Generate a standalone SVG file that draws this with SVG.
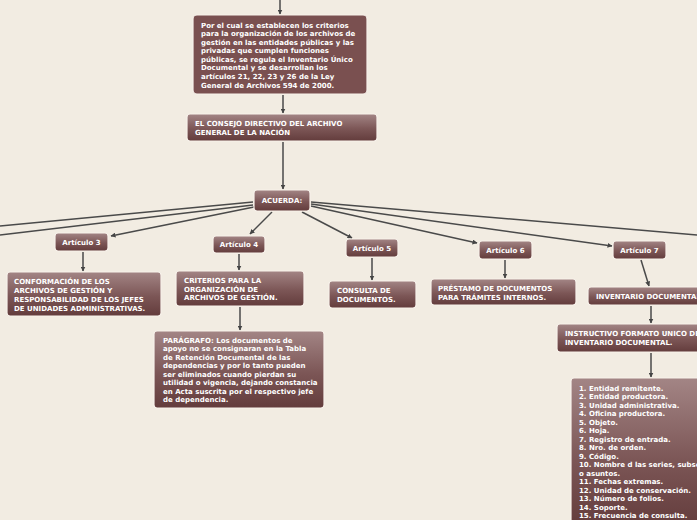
<svg xmlns="http://www.w3.org/2000/svg" width="697" height="520" viewBox="0 0 697 520">
<defs>
<linearGradient id="g" x1="0" y1="0" x2="0" y2="1">
<stop offset="0" stop-color="#a38585"/>
<stop offset="0.55" stop-color="#7c5656"/>
<stop offset="1" stop-color="#633c3c"/>
</linearGradient>
<marker id="ah" viewBox="0 0 10 10" refX="9" refY="5" markerWidth="5" markerHeight="5" orient="auto" markerUnits="userSpaceOnUse">
<path d="M0,0 L10,5 L0,10 z" fill="#454545"/>
</marker>
</defs>
<style>
.bx{fill:url(#g);stroke:#f7f1ea;stroke-width:1.2}
.solid{fill:#7a5050;stroke:#f7f1ea;stroke-width:1.2}
.t{font-family:"DejaVu Sans",Verdana,sans-serif;font-weight:bold;font-size:7px;fill:#ffffff}
.c{text-anchor:middle}
.ln{stroke:#4a4a4a;stroke-width:1.5;fill:none}
.ar{marker-end:url(#ah)}
</style>
<rect width="697" height="520" fill="#f2ece2"/>
<g id="connectors">
<line class="ln ar" x1="280" y1="0" x2="280" y2="14"/>
<line class="ln ar" x1="283" y1="95" x2="283" y2="113"/>
<line class="ln ar" x1="283" y1="142" x2="283" y2="189"/>
<line class="ln" x1="253" y1="202" x2="0" y2="226"/>
<line class="ln" x1="253" y1="205" x2="0" y2="235"/>
<line class="ln ar" x1="254" y1="207" x2="111" y2="236"/>
<line class="ln ar" x1="272" y1="212" x2="250" y2="234"/>
<line class="ln ar" x1="302" y1="212" x2="352" y2="238"/>
<line class="ln ar" x1="311" y1="206" x2="477" y2="243"/>
<line class="ln ar" x1="311" y1="204" x2="612" y2="246"/>
<line class="ln" x1="311" y1="202" x2="697" y2="235"/>
<line class="ln ar" x1="83" y1="252" x2="83" y2="271"/>
<line class="ln ar" x1="239" y1="254" x2="239" y2="270"/>
<line class="ln ar" x1="240" y1="307" x2="240" y2="330"/>
<line class="ln ar" x1="372" y1="258" x2="372" y2="280"/>
<line class="ln ar" x1="505" y1="260" x2="505" y2="278"/>
<line class="ln ar" x1="641" y1="260" x2="649" y2="286"/>
<line class="ln ar" x1="651" y1="306" x2="651" y2="323"/>
<line class="ln ar" x1="651" y1="353" x2="651" y2="377"/>
</g>
<g id="n-intro">
<rect class="solid" x="193" y="15" width="174" height="79" rx="4"/>
<text class="t" x="201" y="27.5">Por el cual se establecen los criterios</text>
<text class="t" x="201" y="36">para la organización de los archivos de</text>
<text class="t" x="201" y="44.6">gestión en las entidades públicas y las</text>
<text class="t" x="201" y="53.2">privadas que cumplen funciones</text>
<text class="t" x="201" y="61.8">públicas, se regula el Inventario Único</text>
<text class="t" x="201" y="70.4">Documental y se desarrollan los</text>
<text class="t" x="201" y="79">artículos 21, 22, 23 y 26 de la Ley</text>
<text class="t" x="201" y="87.6">General de Archivos 594 de 2000.</text>
</g>
<g id="n-consejo">
<rect class="bx" x="187" y="114" width="190" height="27" rx="3"/>
<text class="t" x="195" y="126">EL CONSEJO DIRECTIVO DEL ARCHIVO</text>
<text class="t" x="195" y="135">GENERAL DE LA NACIÓN</text>
</g>
<g id="n-acuerda">
<rect class="bx" x="254" y="190" width="56" height="21" rx="3"/>
<text class="t c" x="282" y="203">ACUERDA:</text>
</g>
<g id="n-art3">
<rect class="bx" x="55" y="233" width="53" height="18" rx="3"/>
<text class="t c" x="81.5" y="244.5">Artículo 3</text>
</g>
<g id="n-art4">
<rect class="bx" x="213" y="236" width="52" height="17" rx="3"/>
<text class="t c" x="239" y="247">Artículo 4</text>
</g>
<g id="n-art5">
<rect class="bx" x="346" y="239" width="52" height="18" rx="3"/>
<text class="t c" x="372" y="250.5">Artículo 5</text>
</g>
<g id="n-art6">
<rect class="bx" x="479" y="241" width="53" height="18" rx="3"/>
<text class="t c" x="505.5" y="252.5">Artículo 6</text>
</g>
<g id="n-art7">
<rect class="bx" x="613" y="241" width="53" height="18" rx="3"/>
<text class="t c" x="639.5" y="252.5">Artículo 7</text>
</g>
<g id="n-conformacion">
<rect class="bx" x="7" y="272" width="154" height="44" rx="3"/>
<text class="t" x="14" y="284">CONFORMACIÓN DE LOS</text>
<text class="t" x="14" y="293">ARCHIVOS DE GESTIÓN Y</text>
<text class="t" x="14" y="302">RESPONSABILIDAD DE LOS JEFES</text>
<text class="t" x="14" y="311">DE UNIDADES ADMINISTRATIVAS.</text>
</g>
<g id="n-criterios">
<rect class="bx" x="176" y="271" width="128" height="35" rx="3"/>
<text class="t" x="184" y="283">CRITERIOS PARA LA</text>
<text class="t" x="184" y="291.5">ORGANIZACIÓN DE</text>
<text class="t" x="184" y="300">ARCHIVOS DE GESTIÓN.</text>
</g>
<g id="n-paragrafo">
<rect class="bx" x="154" y="331" width="170" height="77" rx="3"/>
<text class="t" x="163" y="342.5">PARÁGRAFO: Los documentos de</text>
<text class="t" x="163" y="351">apoyo no se consignaran en la Tabla</text>
<text class="t" x="163" y="359.5">de Retención Documental de las</text>
<text class="t" x="163" y="368">dependencias y por lo tanto pueden</text>
<text class="t" x="163" y="376.5">ser eliminados cuando pierdan su</text>
<text class="t" x="163" y="385">utilidad o vigencia, dejando constancia</text>
<text class="t" x="163" y="393.5">en Acta suscrita por el respectivo jefe</text>
<text class="t" x="163" y="402">de dependencia.</text>
</g>
<g id="n-consulta">
<rect class="bx" x="329" y="281" width="87" height="27" rx="3"/>
<text class="t" x="337" y="293">CONSULTA DE</text>
<text class="t" x="337" y="302">DOCUMENTOS.</text>
</g>
<g id="n-prestamo">
<rect class="bx" x="431" y="279" width="145" height="26" rx="3"/>
<text class="t" x="438" y="290.5">PRÉSTAMO DE DOCUMENTOS</text>
<text class="t" x="438" y="299.5">PARA TRÁMITES INTERNOS.</text>
</g>
<g id="n-inventario">
<rect class="bx" x="588" y="287" width="125" height="18" rx="3"/>
<text class="t" x="596" y="299">INVENTARIO DOCUMENTAL</text>
</g>
<g id="n-instructivo">
<rect class="bx" x="557" y="324" width="155" height="28" rx="3"/>
<text class="t" x="565" y="336">INSTRUCTIVO FORMATO UNICO DE</text>
<text class="t" x="565" y="345">INVENTARIO DOCUMENTAL.</text>
</g>
<g id="n-lista">
<rect class="bx" x="571" y="378" width="145" height="150" rx="3"/>
<text class="t" x="579" y="390.5">1. Entidad remitente.</text>
<text class="t" x="579" y="399">2. Entidad productora.</text>
<text class="t" x="579" y="407.5">3. Unidad administrativa.</text>
<text class="t" x="579" y="416">4. Oficina productora.</text>
<text class="t" x="579" y="424.6">5. Objeto.</text>
<text class="t" x="579" y="433.1">6. Hoja.</text>
<text class="t" x="579" y="441.6">7. Registro de entrada.</text>
<text class="t" x="579" y="450.2">8. Nro. de orden.</text>
<text class="t" x="579" y="458.7">9. Código.</text>
<text class="t" x="579" y="467.2">10. Nombre d las series, subseries</text>
<text class="t" x="579" y="475.8">o asuntos.</text>
<text class="t" x="579" y="484.3">11. Fechas extremas.</text>
<text class="t" x="579" y="492.8">12. Unidad de conservación.</text>
<text class="t" x="579" y="501.4">13. Número de folios.</text>
<text class="t" x="579" y="509.9">14. Soporte.</text>
<text class="t" x="579" y="518.4">15. Frecuencia de consulta.</text>
</g>
</svg>
